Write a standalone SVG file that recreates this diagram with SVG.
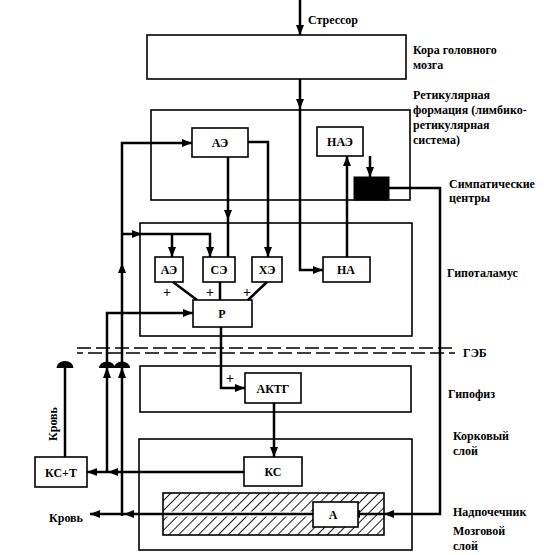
<svg xmlns="http://www.w3.org/2000/svg" width="544" height="555" viewBox="0 0 544 555">
<style>
.box{fill:#fff;stroke:#000;stroke-width:1.6}
.reg{fill:none;stroke:#000;stroke-width:1.6}
.ln{fill:none;stroke:#000;stroke-width:2.5}
.t{font-family:"Liberation Serif","Times New Roman",serif;font-weight:bold;font-size:12px;fill:#000}
.c{text-anchor:middle}
.p{font-size:14px}
.ah{fill:#000}
.dash{stroke:#000;stroke-width:1.6;stroke-dasharray:14 5;fill:none}
</style>
<defs>
<marker id="arr" viewBox="0 0 10 8" refX="10" refY="4" markerWidth="10" markerHeight="8" markerUnits="userSpaceOnUse" orient="auto">
<path d="M0,0 L10,4 L0,8 Z" fill="#000"/>
</marker>
<pattern id="hatch" width="7" height="7" patternUnits="userSpaceOnUse" patternTransform="rotate(45)">
<rect width="7" height="7" fill="#fff"/>
<line x1="0" y1="0" x2="0" y2="7" stroke="#000" stroke-width="1.8"/>
</pattern>
</defs>
<rect width="544" height="555" fill="#fff"/>

<g id="regions">
<rect id="cortex" class="box" x="147" y="35" width="259" height="44"/>
<rect id="reticular" class="reg" x="151" y="110" width="259" height="90"/>
<rect id="hypothalamus" class="reg" x="140" y="223" width="272" height="113"/>
<rect id="pituitary" class="reg" x="140" y="366" width="271" height="46"/>
<rect id="adrenal" class="reg" x="139" y="439" width="273" height="111"/>
<rect id="medulla" x="163" y="493" width="221" height="42" fill="url(#hatch)" stroke="#000" stroke-width="1.6"/>
</g>

<g id="geb">
<line class="dash" x1="77" y1="348" x2="455" y2="348"/>
<line class="dash" x1="77" y1="353" x2="455" y2="353" stroke-dashoffset="8"/>
</g>

<g id="connectors">
<path class="ln" d="M300,0 V35" marker-end="url(#arr)"/>
<path class="ln" d="M300,79 V109" marker-end="url(#arr)"/>
<path class="ln" d="M300,109 V270 H323" marker-end="url(#arr)"/>
<path class="ln" d="M228,157 V220" marker-end="url(#arr)"/>
<path class="ln" d="M228,220 V257"/>
<path class="ln" d="M248,142 H268 V257" marker-end="url(#arr)"/>
<path class="ln" d="M122,516 V143 H192" marker-end="url(#arr)"/>
<polygon class="ah" points="122,263 118,273 126,273"/>
<path class="ln" d="M122,234 H210 V257" marker-end="url(#arr)"/>
<polygon class="ah" points="142,234 132,230 132,238"/>
<path class="ln" d="M172,234 V257" marker-end="url(#arr)"/>
<path class="ln" d="M107,473 V313 H193" marker-end="url(#arr)"/>
<path class="ln" d="M347,257 V156" marker-end="url(#arr)"/>
<path class="ln" d="M370,156 V177" marker-end="url(#arr)"/>
<path class="ln" d="M389,188 H440 V514 H350" marker-end="url(#arr)"/>
<polygon class="ah" points="384,514 394,510 394,518"/>
<path class="ln" d="M221,327 V388 H245" marker-end="url(#arr)"/>
<path class="ln" d="M274,403 V457" marker-end="url(#arr)"/>
<path class="ln" d="M244,472 H87" marker-end="url(#arr)"/>
<polygon class="ah" points="108,472 118,468 118,476"/>
<line x1="164" y1="514" x2="313" y2="514" stroke="#fff" stroke-width="5"/>
<path class="ln" d="M313,514 H90" marker-end="url(#arr)"/>
<polygon class="ah" points="124,514 134,510 134,518"/>
<path class="ln" d="M65,457 V367"/>
<path class="ah" d="M56.5,368 A8.5,7 0 0 1 73.5,368 Z"/>
<path class="ah" d="M99,368 A8,6.5 0 0 1 115,368 Z"/>
<polygon class="ah" points="107,367 103,378 111,378"/>
<path class="ah" d="M114,368 A8,6.5 0 0 1 130,368 Z"/>
<polygon class="ah" points="122,367 118,378 126,378"/>
</g>

<g id="node-ae-top"><rect class="box" x="192" y="128" width="56" height="29"/><text class="t c" x="220" y="147">АЭ</text></g>
<g id="node-nae"><rect class="box" x="317" y="127" width="46" height="29"/><text class="t c" x="340" y="146">НАЭ</text></g>
<g id="node-symp"><rect x="354" y="177" width="35" height="23" fill="#000" stroke="#000"/></g>
<g id="node-ae"><rect class="box" x="155" y="257" width="28" height="25"/><text class="t c" x="169" y="274">АЭ</text></g>
<g id="node-se"><rect class="box" x="203" y="257" width="32" height="25"/><text class="t c" x="219" y="274">СЭ</text></g>
<g id="node-he"><rect class="box" x="252" y="257" width="30" height="25"/><text class="t c" x="267" y="274">ХЭ</text></g>
<g id="node-na"><rect class="box" x="323" y="257" width="47" height="25"/><text class="t c" x="346" y="274">НА</text></g>
<g id="node-r">
<path class="ln" d="M173,282 L197,300 M220,282 V300 M267,282 L248,300"/>
<rect class="box" x="193" y="300" width="59" height="27"/><text class="t c" x="222" y="318">Р</text>
<text class="t c p" x="167" y="297">+</text><text class="t c p" x="210" y="297">+</text><text class="t c p" x="247" y="297">+</text>
</g>
<g id="node-actg"><rect class="box" x="245" y="373" width="56" height="30"/><text class="t c" x="273" y="393">АКТГ</text><text class="t c p" x="230" y="383">+</text></g>
<g id="node-ks"><rect class="box" x="244" y="457" width="58" height="29"/><text class="t c" x="273" y="476">КС</text></g>
<g id="node-kst"><rect class="box" x="35" y="457" width="52" height="30"/><text class="t c" x="61" y="477">КС+Т</text></g>
<g id="node-a"><rect class="box" x="313" y="502" width="45" height="25"/><text class="t c" x="333" y="519">А</text></g>

<g id="labels">
<text class="t" x="308" y="24">Стрессор</text>
<text class="t" x="413" y="54">Кора головного</text>
<text class="t" x="413" y="69">мозга</text>
<text class="t" x="413" y="99">Ретикулярная</text>
<text class="t" x="413" y="114">формация (лимбико-</text>
<text class="t" x="413" y="129">ретикулярная</text>
<text class="t" x="413" y="144">система)</text>
<text class="t" x="449" y="188">Симпатические</text>
<text class="t" x="449" y="202">центры</text>
<text class="t" x="447" y="277">Гипоталамус</text>
<text class="t" x="463" y="357">ГЭБ</text>
<text class="t" x="448" y="398">Гипофиз</text>
<text class="t" x="453" y="440">Корковый</text>
<text class="t" x="453" y="455">слой</text>
<text class="t" x="453" y="516">Надпочечник</text>
<text class="t" x="453" y="535">Мозговой</text>
<text class="t" x="453" y="550">слой</text>
<text class="t" x="49" y="522">Кровь</text>
<text class="t c" transform="translate(57,424) rotate(-90)">Кровь</text>
</g>
</svg>
